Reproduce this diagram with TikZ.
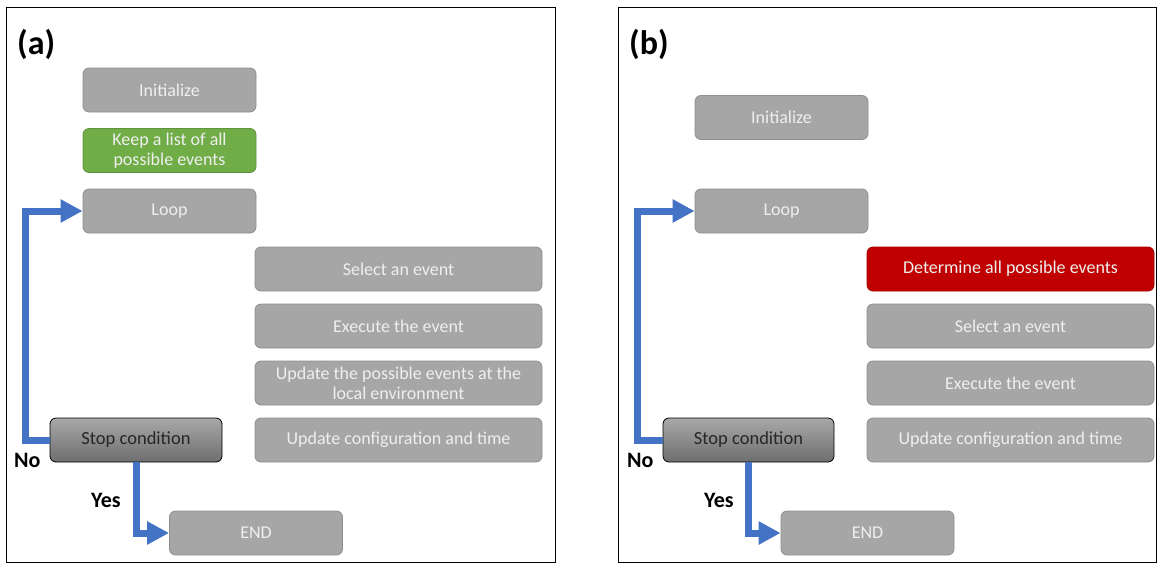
\documentclass[tikz,border=0pt]{standalone}
\usepackage{fontspec}
\setmainfont{Carlito}
\usetikzlibrary{arrows.meta}
\definecolor{boxfill}{HTML}{A6A6A6}
\definecolor{boxedge}{HTML}{8F8F8F}
\definecolor{boxtext}{HTML}{EFEFEF}
\definecolor{greenfill}{HTML}{70AD47}
\definecolor{redfill}{HTML}{C00000}
\definecolor{flowblue}{HTML}{4472C4}
\definecolor{stoptop}{HTML}{A8A8A8}
\definecolor{stopbot}{HTML}{6E6E6E}
\begin{document}
\begin{tikzpicture}[x=1pt,y=-1pt,
  box/.style={draw=boxedge, line width=0.8pt, fill=boxfill, rounded corners=6pt, text=boxtext,
    font=\fontsize{18}{20}\selectfont, align=center, inner sep=0pt, minimum height=44pt},
  narrowbox/.style={box, minimum width=173pt},
  widebox/.style={box, minimum width=287pt},
  greenbox/.style={narrowbox, fill=greenfill, draw=greenfill!85!black},
  redbox/.style={widebox, fill=redfill, draw=redfill!85!black},
  stopbox/.style={draw=black, line width=0.8pt, top color=stoptop, bottom color=stopbot, rounded corners=6pt,
    text=black!85, font=\fontsize{18.5}{20}\selectfont, inner sep=0pt, minimum height=44pt},
  flow/.style={draw=flowblue, line width=7pt, line join=miter, -{Triangle[width=22pt,length=22pt]}},
  answer/.style={font=\bfseries\fontsize{22}{24}\selectfont, text=black, inner sep=0pt},
  panellabel/.style={font=\bfseries\fontsize{34}{38}\selectfont, text=black, inner sep=0pt},
  frame/.style={draw=black, line width=0.8pt}
]
\useasboundingbox (0,0) rectangle (1159,563);
% panel frames
\draw[frame] (6,7) rectangle (555,562);
\draw[frame] (618,7) rectangle (1156,562);

% ---------- panel (a) ----------
\node[panellabel, anchor=base west] (la) at (17,54) {(a)};
\node[narrowbox] (ainit) at (169.5,90) {Initialize};
\node[greenbox] (akeep) at (169.5,150.5) {Keep a list of all\\possible events};
\node[narrowbox] (aloop) at (169.5,211) {Loop};
\node[widebox] (asel) at (398.5,269) {Select an event};
\node[widebox] (aexe) at (398.5,326) {Execute the event};
\node[widebox] (aupd) at (398.5,383) {Update the possible events at the\\local environment};
\node[widebox] (acfg) at (398.5,440) {Update configuration and time};
\node[stopbox, minimum width=172pt] (astop) at (136,440) {Stop condition};
\node[narrowbox] (aend) at (256,533) {END};
\draw[flow] (astop.west) -- ++(-24,0) |- (aloop.west);
\draw[flow] (astop.south) |- (aend.west);
\node[answer, anchor=base west] (ano) at (14,467) {No};
\node[answer, anchor=base west] (ayes) at (91,507) {Yes};

% ---------- panel (b) ----------
\node[panellabel, anchor=base west] (lb) at (629,54) {(b)};
\node[narrowbox] (binit) at (781.5,117.5) {Initialize};
\node[narrowbox] (bloop) at (781.5,211) {Loop};
\node[redbox] (bdet) at (1010.5,269) {Determine all possible events};
\node[widebox] (bsel) at (1010.5,326) {Select an event};
\node[widebox] (bexe) at (1010.5,383) {Execute the event};
\node[widebox] (bcfg) at (1010.5,440) {Update configuration and time};
\node[stopbox, minimum width=171pt] (bstop) at (748.5,440) {Stop condition};
\node[narrowbox] (bend) at (867.5,533) {END};
\draw[flow] (bstop.west) -- ++(-25,0) |- (bloop.west);
\draw[flow] (bstop.south) |- (bend.west);
\node[answer, anchor=base west] (bno) at (627,467) {No};
\node[answer, anchor=base west] (byes) at (704,507) {Yes};
\end{tikzpicture}
\end{document}
